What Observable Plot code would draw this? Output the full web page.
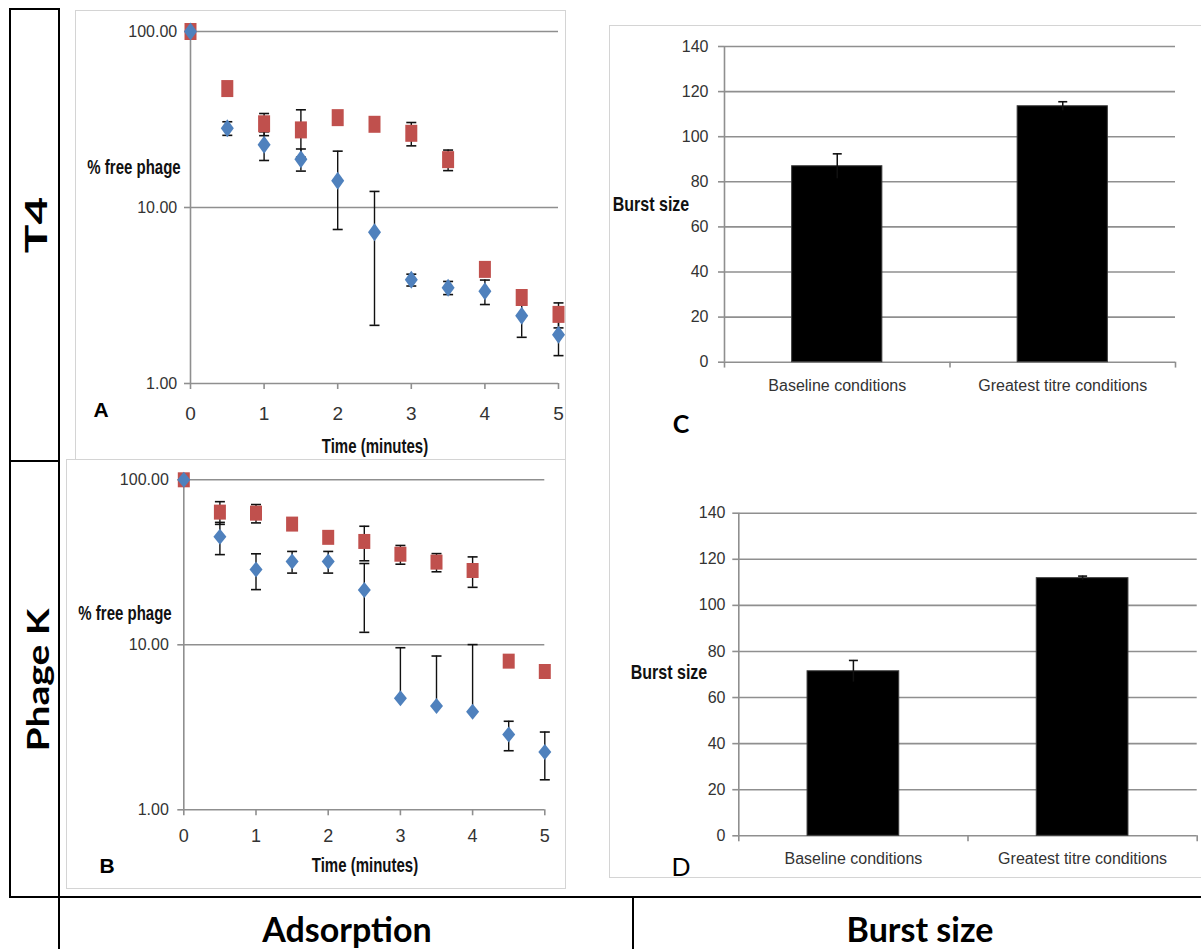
<!DOCTYPE html>
<html>
<head>
<meta charset="utf-8">
<script src="https://cdn.jsdelivr.net/npm/d3@7"></script>
<script src="https://cdn.jsdelivr.net/npm/@observablehq/plot@0.6"></script>
<style>
  body { margin: 0; background: #fff; }
  #root { position: relative; width: 1201px; height: 949px; overflow: hidden; background: #fff;
          font-family: "Liberation Sans", Arial, sans-serif; }
  .plotbox { position: absolute; overflow: hidden; }
  .plotbox svg { display: block; max-width: none; }
</style>
</head>
<body>
<div id="root"></div>
<script>
// ---------------- DATA ----------------
const times = [0, 0.5, 1, 1.5, 2, 2.5, 3, 3.5, 4, 4.5, 5];

// Panel A — T4 adsorption (% free phage)
const t4Blue    = [100, 28.2, 22.7, 18.8, 14.2, 7.24, 3.88, 3.50, 3.34, 2.43, 1.89];
const t4BlueErr = [0, 2.5, 4.2, 2.7, 6.7, 5.1, 0.3, 0.3, 0.53, 0.6, 0.45];
const t4Red     = [100, 47.4, 29.9, 27.6, 32.4, 29.7, 26.4, 18.7, 4.45, 3.08, 2.47];
const t4RedErr  = [0, 0, 4.3, 8.3, 0, 0, 4.0, 2.5, 0, 0, 0.4];

// Panel B — Phage K adsorption (% free phage)
const kBlue    = [100, 45.2, 28.6, 32.0, 32.0, 21.5, 4.75, 4.25, 3.93, 2.86, 2.24];
const kBlueErr = [0, 10, 7, 4.8, 4.8, 9.6, 4.85, 4.3, 6.1, 0.58, 0.72];
const kRed     = [100, 63.7, 62.8, 53.9, 44.8, 42.3, 35.4, 31.7, 28.2, 7.96, 6.89];
const kRedErr  = [0, 10, 8, 0, 0, 10, 4.6, 4.0, 5.9, 0, 0];

// Panels C, D — burst size
const conditions = ["Baseline conditions", "Greatest titre conditions"];
const burstT4    = [86.9, 113.5];
const burstT4Err = [5.5, 2.0];
const burstK     = [71.4, 111.8];
const burstKErr  = [4.7, 0.9];

// tick labels
const logTicks   = [1, 10, 100];
const timeTicks  = [0, 1, 2, 3, 4, 5];
const burstTicks = [0, 20, 40, 60, 80, 100, 120, 140];

// ---------------- HELPERS ----------------
const root = document.getElementById("root");
const BLUE = "#4F81BD", RED = "#C0504D", GRID = "#8f8f8f", TXT = "#333";
const FONT = '"Liberation Sans", Arial, sans-serif';
const TITLE = 'Lato, "Open Sans", sans-serif';

function div(x, y, w, h, css) {
  const d = document.createElement("div");
  d.style.cssText = `position:absolute;left:${x}px;top:${y}px;width:${w}px;height:${h}px;${css || ""}`;
  root.appendChild(d);
  return d;
}
function label(str, cx, cy, css, extra) {
  const d = document.createElement("div");
  d.textContent = str;
  d.style.cssText = `position:absolute;left:${cx}px;top:${cy}px;white-space:nowrap;line-height:1;` +
    `transform:translate(-50%,-50%) ${extra || ""};${css || ""}`;
  root.appendChild(d);
  return d;
}
const tallSquare  = (w, h) => ({draw(ctx) { ctx.moveTo(-w, -h); ctx.lineTo(w, -h); ctx.lineTo(w, h); ctx.lineTo(-w, h); ctx.closePath(); }});
const tallDiamond = (w, h) => ({draw(ctx) { ctx.moveTo(0, -h); ctx.lineTo(w, 0); ctx.lineTo(0, h); ctx.lineTo(-w, 0); ctx.closePath(); }});
const capSym      = (w) => ({draw(ctx) { ctx.moveTo(-w, 0); ctx.lineTo(w, 0); }});

function adsorptionPlot(o) {
  const series = (v, e) => times.map((t, i) => ({t, v: v[i], e: e[i]}));
  const blue = series(o.blue, o.blueErr), red = series(o.red, o.redErr);
  const errs = [...red, ...blue].filter(d => d.e > 0).map(d => ({
    t: d.t, v: d.v, hi: d.v + d.e, lo: d.v - d.e > 0 ? d.v - d.e : null
  }));
  return Plot.plot({
    width: o.width, height: o.height,
    marginLeft: o.mL, marginRight: o.mR, marginTop: o.mT, marginBottom: o.mB,
    x: {domain: [0, 5]},
    y: {type: "log", domain: [1, 100]},
    style: {fontFamily: FONT, background: "transparent", overflow: "visible"},
    marks: [
      Plot.ruleY(logTicks, {stroke: GRID, strokeWidth: 1.6}),
      Plot.ruleX([0], {stroke: GRID, strokeWidth: 1.6}),
      Plot.axisY({ticks: logTicks, tickFormat: d => d.toFixed(2), tickSize: 6, tickPadding: o.yPad,
                  fontSize: 16, fill: TXT, stroke: GRID, strokeWidth: 1.6, label: null}),
      Plot.axisX({ticks: timeTicks, tickFormat: d => String(d), tickSize: 6, tickPadding: o.xPad,
                  fontSize: o.xFont, fill: TXT, stroke: GRID, strokeWidth: 1.6, label: null}),
      Plot.ruleX(errs, {x: "t", y1: d => d.lo ?? d.v, y2: "hi", stroke: "#111", strokeWidth: 1.4}),
      Plot.dot(errs, {x: "t", y: "hi", symbol: capSym(5), fill: "none", stroke: "#111", strokeWidth: 1.6}),
      Plot.dot(errs.filter(d => d.lo != null), {x: "t", y: "lo", symbol: capSym(5), fill: "none", stroke: "#111", strokeWidth: 1.6}),
      Plot.dot(red, {x: "t", y: "v", symbol: tallSquare(6, o.sqH), fill: RED, stroke: "none"}),
      Plot.dot(blue, {x: "t", y: "v", symbol: tallDiamond(6.5, o.dmH), fill: BLUE, stroke: "none"})
    ]
  });
}

function burstPlot(o) {
  const rows = conditions.map((c, i) => ({c, v: o.vals[i], e: o.errs[i]}));
  const pi = 0.6, po = 0.3;
  const inner = o.width - o.mL - o.mR;
  const half = inner / (conditions.length - pi + 2 * po) / 2;
  const first = conditions[0], last = conditions[conditions.length - 1];
  return Plot.plot({
    width: o.width, height: o.height,
    marginLeft: o.mL, marginRight: o.mR, marginTop: o.mT, marginBottom: o.mB,
    x: {domain: conditions, paddingInner: pi, paddingOuter: po, round: false},
    y: {domain: [0, 140]},
    style: {fontFamily: FONT, background: "transparent", overflow: "visible"},
    marks: [
      Plot.ruleY(burstTicks, {stroke: GRID, strokeWidth: 1.6}),
      Plot.ruleX([first], {x: d => d, dx: -half, y1: 0, y2: 140, stroke: GRID, strokeWidth: 1.6}),
      Plot.ruleX(conditions, {x: d => d, dx: -half, y1: 0, y2: -2.6, stroke: GRID, strokeWidth: 1.6}),
      Plot.ruleX([last], {x: d => d, dx: half, y1: 0, y2: -2.6, stroke: GRID, strokeWidth: 1.6}),
      Plot.axisY({ticks: burstTicks, tickSize: 6, tickPadding: o.yPad, fontSize: 16, fill: TXT,
                  stroke: GRID, strokeWidth: 1.6, label: null}),
      Plot.axisX({tickSize: 0, tickPadding: o.xPad, fontSize: 16, fill: TXT, label: null}),
      Plot.barY(rows, {x: "c", y: "v", fill: "#000", stroke: "#3a3a3a", strokeWidth: 1}),
      Plot.ruleX(rows, {x: "c", y1: d => d.v - d.e, y2: d => d.v + d.e, stroke: "#111", strokeWidth: 1.5}),
      Plot.dot(rows, {x: "c", y: d => d.v + d.e, symbol: capSym(4.5), fill: "none", stroke: "#111", strokeWidth: 1.6})
    ]
  });
}

function place(svg, x, y, w, h) {
  const d = div(x, y, w, h);
  d.className = "plotbox";
  d.appendChild(svg);
}

// ---------------- PANEL BORDERS ----------------
div(75, 10, 491, 450, "box-sizing:border-box;border:1px solid #d4d4d4;");
div(66, 459, 500, 430, "box-sizing:border-box;border:1px solid #d4d4d4;");
div(609, 25, 700, 853, "box-sizing:border-box;border:1px solid #d4d4d4;");

// ---------------- PLOTS ----------------
place(adsorptionPlot({blue: t4Blue, blueErr: t4BlueErr, red: t4Red, redErr: t4RedErr,
  width: 489, height: 447, mL: 114, mR: 7, mT: 20, mB: 75, yPad: 7.3, xPad: 17, xFont: 19, sqH: 8.5, dmH: 9}),
  76, 11, 489, 447);

place(adsorptionPlot({blue: kBlue, blueErr: kBlueErr, red: kRed, redErr: kRedErr,
  width: 498, height: 427, mL: 116.3, mR: 20.7, mT: 19.3, mB: 77.7, yPad: 9, xPad: 13.5, xFont: 18, sqH: 7.5, dmH: 8}),
  67, 460, 498, 427);

place(burstPlot({vals: burstT4, errs: burstT4Err,
  width: 591, height: 424, mL: 114, mR: 26, mT: 20, mB: 88.3, yPad: 10, xPad: 17.5}),
  610, 26, 591, 424);

place(burstPlot({vals: burstK, errs: burstKErr,
  width: 591, height: 386, mL: 128.3, mR: 4.3, mT: 22.7, mB: 40.7, yPad: 7.3, xPad: 17}),
  610, 490, 591, 386);

// ---------------- AXIS TITLES & PANEL LETTERS ----------------
const axT = `font-family:${FONT};font-weight:bold;color:#111;`;
const tall = "scaleY(1.3)";
label("% free phage", 134, 167, axT + "font-size:15px;", tall);
label("Time (minutes)", 375, 446, axT + "font-size:15px;", tall);
label("% free phage", 125, 613, axT + "font-size:15px;", tall);
label("Time (minutes)", 365, 865, axT + "font-size:15px;", tall);
label("Burst size", 651, 204, axT + "font-size:16px;", tall);
label("Burst size", 669, 673, axT + "font-size:16px;", tall);

label("A", 101, 409, `font-family:${FONT};font-weight:bold;font-size:21px;color:#000;`);
label("B", 107, 865, `font-family:${FONT};font-weight:bold;font-size:21px;color:#000;`);
label("C", 681, 423, `font-family:${TITLE};font-weight:bold;font-size:25px;color:#000;`);
label("D", 681, 866, `font-family:${TITLE};font-weight:normal;font-size:25px;color:#000;`);

// ---------------- OUTER TABLE FRAME ----------------
const LW = 2;
div(9, 8, LW, 890, "background:#000;");       // left edge
div(58, 8, LW, 941, "background:#000;");      // row-label column divider
div(9, 8, 51, LW, "background:#000;");        // top of label column
div(9, 460, 51, LW, "background:#000;");      // between T4 and Phage K
div(9, 896, 1192, LW, "background:#000;");    // above bottom titles
div(632, 896, LW, 53, "background:#000;");    // between bottom titles

label("T4", 35, 225, `font-family:${TITLE};font-weight:bold;font-size:30px;color:#000;`, "rotate(-90deg) scaleX(1.6)");
label("Phage K", 37, 680, `font-family:${TITLE};font-weight:bold;font-size:30px;color:#000;`, "rotate(-90deg) scaleX(1.3)");
label("Adsorption", 347, 929, `font-family:${TITLE};font-weight:bold;font-size:34px;color:#000;`);
label("Burst size", 920, 929, `font-family:${TITLE};font-weight:bold;font-size:34px;color:#000;`);
</script>
</body>
</html>
